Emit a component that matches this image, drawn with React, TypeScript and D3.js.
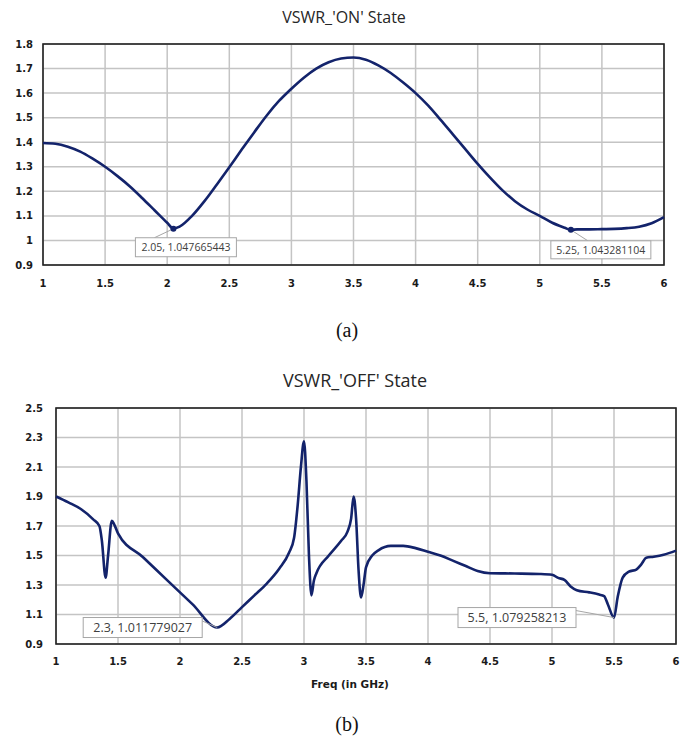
import React from "react";
import * as d3 from "d3";

// ---------- DATA ----------
const onFreq = [1.0, 1.1, 1.2, 1.3, 1.4, 1.5, 1.6, 1.7, 1.8, 1.9, 2.0, 2.05, 2.1, 2.2, 2.3, 2.4, 2.5, 2.6, 2.7, 2.8, 2.9, 3.0, 3.1, 3.2, 3.3, 3.4, 3.5, 3.6, 3.7, 3.8, 3.9, 4.0, 4.1, 4.2, 4.3, 4.4, 4.5, 4.6, 4.7, 4.8, 4.9, 5.0, 5.1, 5.2, 5.25, 5.3, 5.4, 5.5, 5.6, 5.7, 5.8, 5.9, 6.0];
const onVswr = [1.397, 1.394, 1.382, 1.362, 1.333, 1.30, 1.262, 1.22, 1.172, 1.122, 1.072, 1.048, 1.056, 1.10, 1.16, 1.228, 1.298, 1.37, 1.44, 1.508, 1.568, 1.618, 1.663, 1.70, 1.726, 1.741, 1.745, 1.736, 1.713, 1.682, 1.643, 1.60, 1.55, 1.492, 1.432, 1.372, 1.312, 1.256, 1.204, 1.16, 1.126, 1.10, 1.072, 1.052, 1.043, 1.045, 1.045, 1.046, 1.047, 1.05, 1.056, 1.07, 1.095];

const offFreq = [1.0, 1.1, 1.2, 1.3, 1.35, 1.37, 1.40, 1.42, 1.45, 1.47, 1.5, 1.7, 1.9, 2.1, 2.3, 2.4, 2.5, 2.6, 2.7, 2.8, 2.88, 2.92, 2.95, 2.975, 3.0, 3.02, 3.04, 3.06, 3.08, 3.1, 3.2, 3.3, 3.35, 3.38, 3.4, 3.42, 3.44, 3.46, 3.48, 3.5, 3.55, 3.6, 3.7, 3.8, 3.9, 4.0, 4.1, 4.2, 4.3, 4.4, 4.5, 4.7, 4.9, 5.0, 5.05, 5.1, 5.15, 5.2, 5.3, 5.38, 5.42, 5.45, 5.5, 5.53, 5.57, 5.62, 5.68, 5.72, 5.76, 5.82, 5.9, 6.0];
const offVswr = [1.90, 1.86, 1.815, 1.745, 1.70, 1.60, 1.35, 1.50, 1.735, 1.71, 1.65, 1.49, 1.33, 1.17, 1.012, 1.07, 1.15, 1.23, 1.31, 1.41, 1.52, 1.62, 1.85, 2.10, 2.275, 2.0, 1.5, 1.23, 1.33, 1.38, 1.50, 1.60, 1.66, 1.75, 1.90, 1.75, 1.40, 1.215, 1.30, 1.42, 1.50, 1.535, 1.565, 1.565, 1.55, 1.525, 1.50, 1.465, 1.43, 1.395, 1.38, 1.378, 1.375, 1.37, 1.348, 1.335, 1.29, 1.265, 1.25, 1.235, 1.225, 1.17, 1.079, 1.22, 1.35, 1.39, 1.405, 1.44, 1.485, 1.492, 1.505, 1.533];

const xTicks = [1, 1.5, 2, 2.5, 3, 3.5, 4, 4.5, 5, 5.5, 6];
const onYTicks = [0.9, 1, 1.1, 1.2, 1.3, 1.4, 1.5, 1.6, 1.7, 1.8];
const offYTicks = [0.9, 1.1, 1.3, 1.5, 1.7, 1.9, 2.1, 2.3, 2.5];

const onMarkers = [
  { f: 2.05, v: 1.047665443, label: "2.05, 1.047665443" },
  { f: 5.25, v: 1.043281104, label: "5.25, 1.043281104" },
];
const offMarkers = [
  { f: 2.3, v: 1.011779027, label: "2.3, 1.011779027" },
  { f: 5.5, v: 1.079258213, label: "5.5, 1.079258213" },
];

const LINE = "#13236b";
const GRID = "#c4c4c4";

type Ann = { bx: number; by: number; bw: number; bh: number; lx: number; ly: number; fs: number };

function Chart(props: {
  freq: number[];
  vals: number[];
  yTicks: number[];
  yDomain: [number, number];
  left: number; right: number; top: number; bottom: number;
  title: string; titleX: number; titleY: number; titleSize: number;
  markers: { f: number; v: number; label: string }[];
  anns: Ann[];
  dots: boolean;
  labelY: number;
  yLabelX: number;
  yFmt: (v: number) => string;
}) {
  const x = d3.scaleLinear().domain([1, 6]).range([props.left, props.right]);
  const y = d3.scaleLinear().domain(props.yDomain).range([props.bottom, props.top]);
  const pts = props.freq.map((f, i) => [f, props.vals[i]] as [number, number]);
  const line = d3.line<[number, number]>().x(d => x(d[0])).y(d => y(d[1])).curve(d3.curveMonotoneX);
  const axisFont = "'DejaVu Sans', Verdana, sans-serif";
  return (
    <g>
      <text x={props.titleX} y={props.titleY} textAnchor="middle" fontFamily="'Open Sans', sans-serif" fontSize={props.titleSize} fill="#262626">{props.title}</text>
      {xTicks.map(t => (
        <line key={"vx" + t} x1={x(t)} x2={x(t)} y1={props.top} y2={props.bottom} stroke={GRID} strokeWidth={1.5} />
      ))}
      {props.yTicks.map(t => (
        <line key={"hy" + t} x1={props.left} x2={props.right} y1={y(t)} y2={y(t)} stroke={GRID} strokeWidth={1.5} />
      ))}
      <rect x={props.left} y={props.top} width={props.right - props.left} height={props.bottom - props.top} fill="none" stroke="#222" strokeWidth={1.6} />
      {xTicks.map(t => (
        <text key={"xl" + t} x={x(t)} y={props.labelY} textAnchor="middle" fontFamily={axisFont} fontWeight="bold" fontSize={10} fill="#1a1a1a">{String(t)}</text>
      ))}
      {props.yTicks.map(t => (
        <text key={"yl" + t} x={props.yLabelX} y={y(t) + 3.5} textAnchor="end" fontFamily={axisFont} fontWeight="bold" fontSize={10} fill="#1a1a1a">{props.yFmt(t)}</text>
      ))}
      <path d={line(pts) || ""} fill="none" stroke={LINE} strokeWidth={2.6} strokeLinejoin="round" />
      {props.markers.map((m, i) => {
        const a = props.anns[i];
        const px = x(m.f), py = y(m.v);
        return (
          <g key={"m" + i}>
            <line x1={px} y1={py} x2={px + a.lx} y2={py + a.ly} stroke="#a6a6a6" strokeWidth={1} />
            {props.dots && <circle cx={px} cy={py} r={3} fill={LINE} />}
            <rect x={px + a.bx} y={py + a.by} width={a.bw} height={a.bh} fill="#fff" stroke="#a6a6a6" strokeWidth={1} />
            <text x={px + a.bx + a.bw / 2} y={py + a.by + a.bh / 2 + a.fs * 0.36} textAnchor="middle" fontFamily="'Open Sans', sans-serif" fontSize={a.fs} fill="#404040">{m.label}</text>
          </g>
        );
      })}
    </g>
  );
}

export default function App() {
  return (
    <svg width={688} height={743} style={{ position: "absolute", left: 0, top: 0, background: "#fff" }}>
      <rect width={688} height={743} fill="#fff" />
      <Chart
        freq={onFreq} vals={onVswr} yTicks={onYTicks} yDomain={[0.9, 1.8]}
        left={43} right={664} top={44} bottom={265}
        title="VSWR_'ON' State" titleX={344} titleY={23} titleSize={16}
        markers={onMarkers} dots={true}
        anns={[
          { bx: -38, by: 9, bw: 101, bh: 19, lx: -19, ly: 9, fs: 10.5 },
          { bx: -20, by: 11, bw: 100, bh: 18, lx: 17, ly: 11, fs: 10.5 },
        ]}
        labelY={287} yLabelX={33}
        yFmt={v => (Math.abs(v - 1) < 1e-9 ? "1" : v.toFixed(1))}
      />
      <text x={347} y={337} textAnchor="middle" fontFamily="'Liberation Serif', 'Times New Roman', serif" fontSize={20} fill="#111">(a)</text>
      <Chart
        freq={offFreq} vals={offVswr} yTicks={offYTicks} yDomain={[0.9, 2.5]}
        left={56} right={676} top={408} bottom={644}
        title="VSWR_'OFF' State" titleX={355} titleY={387} titleSize={18}
        markers={offMarkers} dots={false}
        anns={[
          { bx: -134, by: -10, bw: 119, bh: 20, lx: -16, ly: -7, fs: 12.5 },
          { bx: -156, by: -10, bw: 118, bh: 20, lx: -38, ly: -7, fs: 12.5 },
        ]}
        labelY={665} yLabelX={43}
        yFmt={v => v.toFixed(1)}
      />
      <text x={350} y={688} textAnchor="middle" fontFamily="'DejaVu Sans', Verdana, sans-serif" fontWeight="bold" fontSize={10.5} fill="#1a1a1a">Freq (in GHz)</text>
      <text x={347} y={731} textAnchor="middle" fontFamily="'Liberation Serif', 'Times New Roman', serif" fontSize={20} fill="#111">(b)</text>
    </svg>
  );
}
